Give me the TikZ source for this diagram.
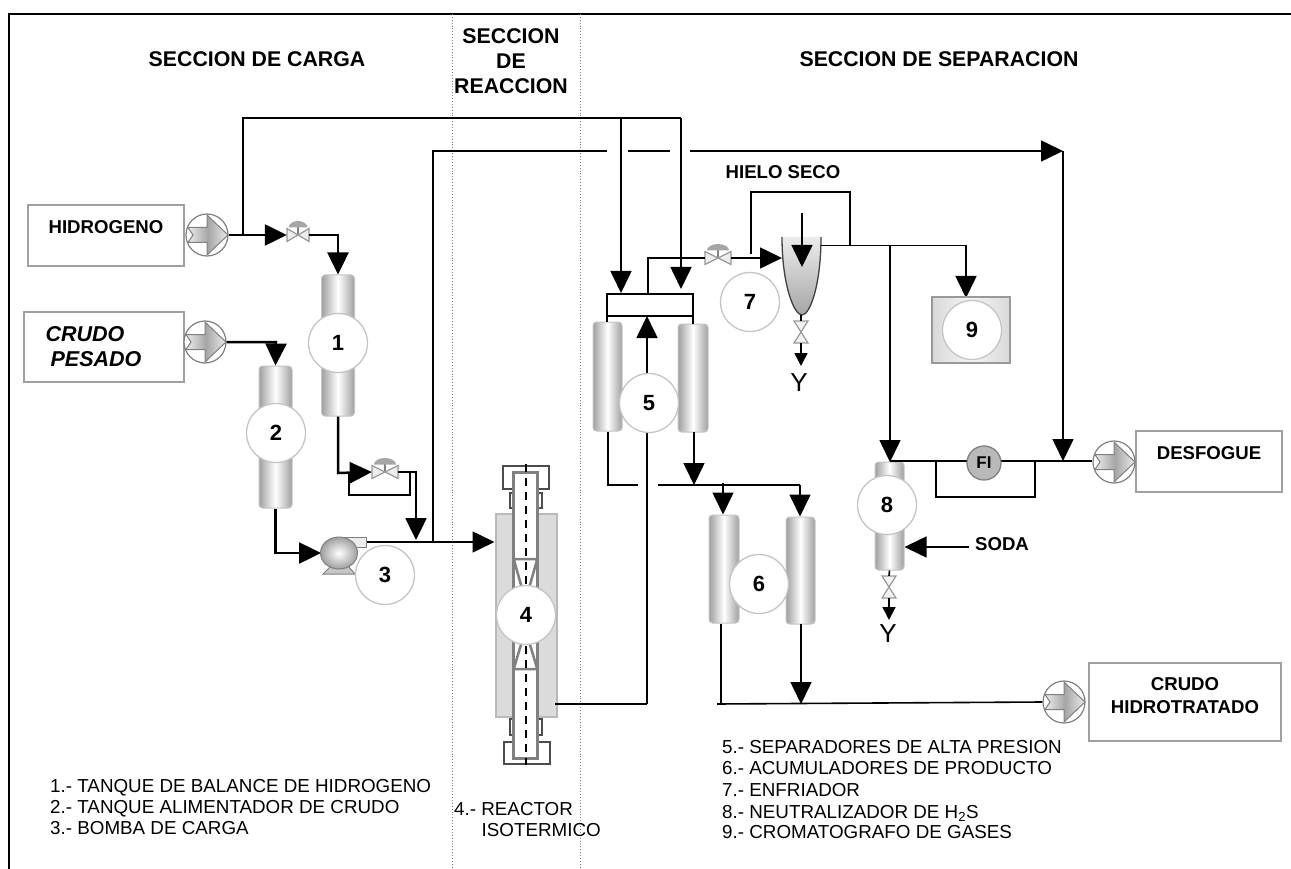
\documentclass[tikz,border=0pt]{standalone}
\usepackage{fontspec}
\setmainfont{Liberation Sans}
\usetikzlibrary{arrows.meta,shapes.geometric,calc}
\definecolor{edgeg}{HTML}{A0A0A0}
\definecolor{ringg}{HTML}{C4C4C4}
\tikzset{
  flow/.style={draw=black,line width=1.6pt},
  heavy/.style={draw=black,line width=2.5pt},
  arr/.style={-{Triangle[length=22pt,width=21pt]}},
  smallarr/.style={-{Triangle[length=13pt,width=13pt]}},
  section/.style={dotted,draw=gray,line width=.9pt},
  numc/.style={circle,draw=ringg,fill=white,line width=1.3pt,minimum size=59pt,inner sep=0pt,font=\fontsize{22}{22}\selectfont\bfseries},
  tank/.style={rectangle,rounded corners=3.5pt,draw=ringg,line width=1pt,left color=gray!75,right color=gray!75,middle color=white,inner sep=0pt},
  srcbox/.style={rectangle,draw=edgeg,line width=1.4pt,fill=white,inner sep=0pt},
  bold18/.style={font=\fontsize{18.6}{20}\selectfont\bfseries,inner sep=0pt,text height=13.2pt,text depth=0pt},
  title/.style={font=\fontsize{21.3}{22}\selectfont\bfseries,inner sep=0pt,text height=14.7pt,text depth=0pt},
  ital/.style={font=\fontsize{21.5}{22}\selectfont\bfseries\itshape,inner sep=0pt,text height=15.4pt,text depth=0pt},
  listtext/.style={font=\fontsize{18.8}{20}\selectfont,inner sep=0pt,anchor=west,text height=13.3pt,text depth=0pt},
  pin/.style={rectangle,inner sep=0pt,minimum size=0pt},
  capbox/.style={rectangle,draw=black!70,line width=1.2pt,fill=white,inner sep=0pt},
}
% feed pump symbol: name, x, y
\newcommand{\feedpump}[3]{%
  \node[circle,draw=gray,fill=white,line width=1.2pt,minimum size=42pt,inner sep=0pt] (#1) at (#2,#3) {};
  \begin{scope}[shift={(#2,#3)}]
    \draw[draw=gray,line width=1pt,left color=gray!15,right color=gray!15,middle color=gray!70]
      (-19,-7.5)--(0,-7.5)--(0,-20)--(21,0)--(0,20)--(0,7.5)--(-19,7.5)--(-14,0)--cycle;
  \end{scope}}
% control valve: name, x, y, half width
\newcommand{\ctrlvalve}[4]{%
  \node[pin,minimum width=#4*2pt,minimum height=12pt] (#1) at (#2,#3) {};
  \begin{scope}[shift={(#2,#3)}]
    \draw[gray,line width=2.5pt] (0,0)--(0,-8);
    \fill[gray!70] (-#4*.85,-7.5) arc[start angle=180,end angle=0,x radius=#4*.85,y radius=-6.5] -- cycle;
    \draw[draw=gray!80,line width=1.2pt,fill=gray!15] (-#4,-6.5)--(0,0)--(-#4,6.5)--cycle;
    \draw[draw=gray!80,line width=1.2pt,fill=gray!15] (#4,-6.5)--(0,0)--(#4,6.5)--cycle;
  \end{scope}}
% hand valve on a vertical line: name, x, y
\newcommand{\handvalve}[3]{%
  \node[pin,minimum width=14pt,minimum height=22pt] (#1) at (#2,#3) {};
  \begin{scope}[shift={(#2,#3)}]
    \draw[draw=gray!80,line width=1.2pt,fill=gray!10] (-7,-11)--(7,-11)--(0,0)--cycle;
    \draw[draw=gray!80,line width=1.2pt,fill=gray!10] (-7,11)--(7,11)--(0,0)--cycle;
  \end{scope}}
\begin{document}
\begin{tikzpicture}[x=1pt,y=-1pt]
\useasboundingbox (0,0) rectangle (1291,869);
% frame and sections
\coordinate (fTL) at (9,14); \coordinate (fTR) at (1291,14); \coordinate (fBL) at (9,869);
\draw[line width=2pt] (fBL)--(fTL)--(fTR);
\coordinate (s1t) at (452,14); \coordinate (s1b) at (452,869);
\coordinate (s2t) at (580,14); \coordinate (s2b) at (580,869);
\draw[section] (s1t)--(s1b); \draw[section] (s2t)--(s2b);
% titles
\node[title] (tA) at (257,59) {SECCION DE CARGA};
\node[title] (tB1) at (511,36) {SECCION};
\node[title] (tB2) at (511,61) {DE};
\node[title] (tB3) at (511,86) {REACCION};
\node[title] (tC) at (939,59) {SECCION DE SEPARACION};
% source boxes
\node[srcbox,minimum width=156pt,minimum height=61pt] (bH) at (106,235.5) {};
\node[bold18] (bHt) at (106,227) {HIDROGENO};
\node[srcbox,minimum width=160pt,minimum height=70pt] (bC) at (104,347) {};
\node[ital] (bCa) at (85,334) {CRUDO};
\node[ital] (bCb) at (96,359) {PESADO};
\node[srcbox,minimum width=146pt,minimum height=61pt] (bD) at (1209,461.5) {};
\node[bold18] (bDt) at (1209,453) {DESFOGUE};
\node[srcbox,minimum width=192pt,minimum height=78pt] (bP) at (1185,702) {};
\node[bold18] (bPa) at (1185,684) {CRUDO};
\node[bold18] (bPb) at (1185,707) {HIDROTRATADO};
% pumps
\feedpump{h1}{207}{235}
\feedpump{h2}{205}{342}
\feedpump{h4}{1114}{462}
\feedpump{h5}{1064}{702}
% equipment positions
\node[tank,minimum width=33pt,minimum height=141pt] (t1) at (338,345.5) {};
\node[tank,minimum width=33pt,minimum height=142pt] (t2) at (275.5,437) {};
\node[tank,minimum width=29pt,minimum height=109pt] (s5a) at (607.5,376.5) {};
\node[tank,minimum width=30pt,minimum height=108pt] (s5b) at (693,378) {};
\node[tank,minimum width=30pt,minimum height=108pt] (t6a) at (724,569) {};
\node[tank,minimum width=29pt,minimum height=107pt] (t6b) at (800.5,570.5) {};
\node[tank,minimum width=29pt,minimum height=108pt] (t8) at (889.5,516) {};
\node[rectangle,minimum width=86pt,minimum height=22pt,inner sep=0pt,draw=black,line width=1.5pt] (m5) at (650,305) {};
% helper coordinates
\coordinate (jH) at (243,235);
\coordinate (topL) at (243,118);
\coordinate (topA) at (621,118);
\coordinate (topB) at (681,118);
\coordinate (rV) at (433,542);
\coordinate (rVt) at (433,151);
\coordinate (g1a) at (607,151); \coordinate (g1b) at (628,151);
\coordinate (g2a) at (670,151); \coordinate (g2b) at (690,151);
\coordinate (hEnd) at (1063,151);
\coordinate (ventJ) at (1063,461);
\coordinate (i5a) at (621,293);
\coordinate (i5b) at (681,289);
\coordinate (i5c) at (647,316);
\coordinate (q5) at (647,704);
% reactor
\node[rectangle,draw=gray!55,fill=gray!28,line width=2pt,minimum width=61pt,minimum height=203pt,inner sep=0pt] (r4) at (526,615.5) {};
\node[capbox,minimum width=46pt,minimum height=23pt] (capT) at (526,477.5) {};
\node[capbox,minimum width=32pt,minimum height=15pt] (brT) at (526,500.5) {};
\node[capbox,minimum width=32pt,minimum height=16pt] (brB) at (526,727) {};
\node[capbox,minimum width=46pt,minimum height=22pt] (capB) at (527,753) {};
\node[rectangle,draw=gray,fill=white,line width=3pt,minimum width=24pt,minimum height=286pt,inner sep=0pt] (tube) at (525.5,615) {};
\draw[gray,line width=2.5pt] (513.5,559)--(537.5,559) (514,560)--(523,592) (537,560)--(528,592);
\draw[gray,line width=2.5pt] (513.5,669)--(537.5,669) (514,668)--(523,638) (537,668)--(528,638);
\coordinate (dt) at (526,464); \coordinate (db) at (526,765);
\draw[black,line width=1.6pt,dash pattern=on 8pt off 6pt] (dt)--(db);
% lines: hydrogen
\ctrlvalve{v1}{298}{235}{11}
\ctrlvalve{v2}{385}{472}{13}
\ctrlvalve{v3}{718}{258}{13}
\draw[flow] (jH)--(topL)--(topB);
\draw[flow,arr] (topA)--(i5a);
\draw[flow,arr] (topB)--(i5b);
\draw[heavy,arr] (h1.east) -- (v1.west);
\coordinate (h1e) at (338,235);
\draw[heavy,arr] (v1.east)--(h1e)--(t1.north);
\coordinate (c1) at (276,342);
\draw[heavy,arr] (h2.east)--(c1)--(t2.north);
\coordinate (b1) at (275.5,553);
\coordinate (pumpin) at (321,553);
\draw[heavy,arr] (t2.south)--(b1)--(pumpin);
\coordinate (b2) at (338,473);
\draw[heavy,arr] (t1.south)--(b2)--(v2.west);
\coordinate (b3) at (416,472); \coordinate (b4) at (416,540);
\draw[heavy,arr] (v2.east)--(b3)--(b4);
\coordinate (by1) at (349,472); \coordinate (by2) at (349,495); \coordinate (by3) at (410,495); \coordinate (by4) at (410,472);
\draw[flow] (by1)--(by2)--(by3)--(by4);
\coordinate (po) at (366,542);
\draw[heavy] (po)--(rV);
\draw[flow,arr] (rV)--(r4.west |- rV);
\draw[flow] (rV)--(rVt)--(g1a);
\draw[flow] (g1b)--(g2a);
\draw[flow,arr] (g2b)--(hEnd);
\draw[flow,arr] (hEnd)--(ventJ);
% lines: separators
\coordinate (ma) at (607,316); \coordinate (mb) at (693,316); \draw[flow] (ma)--(mb);
\draw[flow] (ma)--(s5a.north -| ma);
\draw[flow] (mb)--(s5b.north -| mb);
\coordinate (r1) at (555,704);
\draw[flow] (r1)--(q5);
\draw[flow,arr] (q5)--(i5c);
\coordinate (m5o) at (648,294); \coordinate (m5u) at (648,258);
\draw[flow] (m5o)--(m5u)--(v3.west);
\coordinate (cIn) at (782,258);
\draw[flow,arr] (v3.east)--(cIn);
\coordinate (d1) at (608,485); \coordinate (d2) at (638,485); \coordinate (d3) at (658,485);
\coordinate (d4) at (800,485); \coordinate (d5) at (694,485); \coordinate (d6) at (723,483);
\coordinate (s5bo) at (694,432);
\draw[flow] (s5a.south -| d1)--(d1)--(d2);
\draw[flow] (d3)--(d4);
\draw[flow,arr] (d4)--(t6b.north -| d4);
\draw[flow,arr] (d6)--(t6a.north -| d6);
\draw[flow,arr] (s5bo)--(d5);
\coordinate (e1) at (721,704); \coordinate (e0) at (717,704); \coordinate (e2) at (801,704); \coordinate (e3) at (801,624);
\draw[flow] (t6a.south -| e1)--(e1);
\draw[flow] (e0)--(h5.west);
\draw[flow,arr] (e3)--(e2);
% cooler
\coordinate (hl1) at (751,254); \coordinate (hl2) at (751,192); \coordinate (hl3) at (850,192); \coordinate (hl4) at (850,246);
\draw[flow] (hl1)--(hl2)--(hl3)--(hl4);
\coordinate (co) at (821,245.5); \coordinate (co2) at (966,245.5); \coordinate (co3) at (966,298);
\draw[flow,arr] (co)--(co2)--(co3);
\coordinate (cs) at (890,245.5); \coordinate (ce) at (890,462);
\draw[flow,arr] (cs)--(ce);
\shade[top color=gray!15,bottom color=gray!70] (782,237) .. controls (782,285) and (794,315) .. (802,315) .. controls (810,315) and (821,285) .. (821,237) -- cycle;
\draw[draw=black!75,line width=1.3pt] (782,237) .. controls (782,285) and (794,315) .. (802,315) .. controls (810,315) and (821,285) .. (821,237);
\coordinate (ci1) at (802,213); \coordinate (ci2) at (802,267);
\draw[flow,arr] (ci1)--(ci2);
\handvalve{hv7}{801}{332}
\coordinate (c7b) at (801,315); \coordinate (c7e) at (801,366);
\draw[flow] (c7b)--(hv7.north);
\draw[flow,smallarr] (hv7.south)--(c7e);
\node[font=\fontsize{26}{26}\selectfont,inner sep=0pt,text height=18.5pt,text depth=0pt] (y7) at (799,382) {Y};
% tank 8 / vent
\coordinate (a8) at (889,620);
\handvalve{hv8}{889}{587}
\draw[flow] (t8.south)--(hv8.north);
\draw[flow,smallarr] (hv8.south)--(a8);
\node[font=\fontsize{26}{26}\selectfont,inner sep=0pt,text height=18.5pt,text depth=0pt] (y8) at (888,633) {Y};
\coordinate (v0) at (890,461);
\draw[flow] (v0)--(h4.west |- v0);
\coordinate (fa) at (936,461); \coordinate (fb) at (936,497); \coordinate (fc) at (1035,497); \coordinate (fd) at (1035,461);
\draw[flow] (fa)--(fb)--(fc)--(fd);
\node[circle,draw=gray,fill=gray!55,line width=1.3pt,minimum size=34pt,inner sep=0pt,font=\fontsize{17}{17}\selectfont\bfseries] (fi) at (984,463) {FI};
\coordinate (sodaS) at (969,547);
\draw[flow,arr] (sodaS)--(t8.east |- sodaS);
\node[bold18] (sodaT) at (1002,544) {SODA};
\node[bold18] (hs) at (783,172) {HIELO SECO};
% box 9
\node[rectangle,draw=gray!80,line width=1.8pt,left color=gray!30,right color=gray!30,middle color=gray!8,minimum width=78pt,minimum height=66pt,inner sep=0pt] (b9) at (971,330) {};
% charge pump
\fill[gray!45,draw=gray,line width=1pt] (323,574)--(331,566)--(348,566)--(355,574)--cycle;
\node[rectangle,draw=gray,fill=gray!15,line width=1pt,minimum width=24pt,minimum height=10pt,inner sep=0pt] (pout) at (354,542) {};
\node[ellipse,draw=gray,inner color=white,outer color=gray!75,line width=1pt,minimum width=37pt,minimum height=32pt,inner sep=0pt] (p3) at (339,553) {};
% numbers
\node[numc] (n1) at (338,343) {1};
\node[numc] (n2) at (276,433) {2};
\node[numc] (n3) at (385,575) {3};
\node[numc] (n4) at (526,615) {4};
\node[numc] (n5) at (649,403) {5};
\node[numc] (n6) at (759,584) {6};
\node[numc] (n7) at (750,302) {7};
\node[numc] (n8) at (887,505) {8};
\node[numc] (n9) at (972,330) {9};
% legends
\node[listtext] (l1) at (50,786) {1.- TANQUE DE BALANCE DE HIDROGENO};
\node[listtext] (l2) at (50,807) {2.- TANQUE ALIMENTADOR DE CRUDO};
\node[listtext] (l3) at (50,828) {3.- BOMBA DE CARGA};
\node[listtext] (l4) at (454,809) {4.- REACTOR};
\node[listtext] (l4b) at (481.5,830) {ISOTERMICO};
\node[listtext] (l5) at (722,747) {5.- SEPARADORES DE ALTA PRESION};
\node[listtext] (l6) at (722,768) {6.- ACUMULADORES DE PRODUCTO};
\node[listtext] (l7) at (722,790) {7.- ENFRIADOR};
\node[listtext] (l8t) at (722,812) {8.- NEUTRALIZADOR DE H\textsubscript{2}S};
\node[listtext] (l9) at (722,832) {9.- CROMATOGRAFO DE GASES};
\end{tikzpicture}
\end{document}
